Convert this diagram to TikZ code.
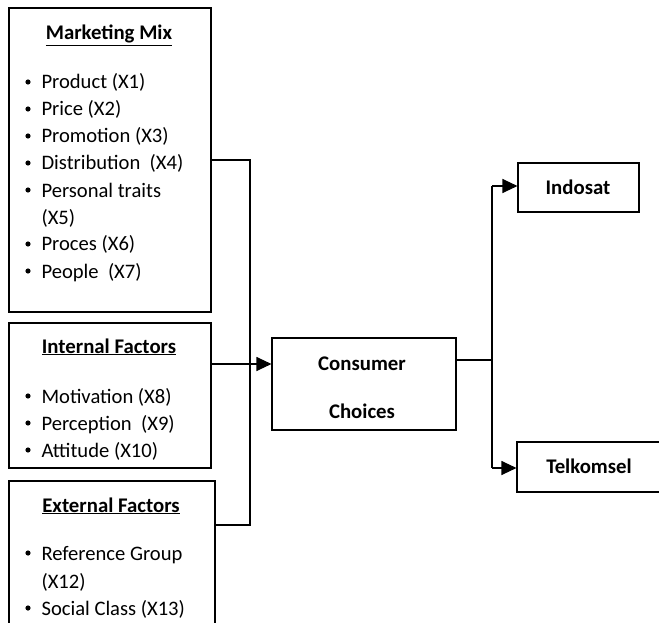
\documentclass[tikz,border=0pt]{standalone}
\usepackage{fontspec}
\setmainfont{Carlito}
\usetikzlibrary{arrows.meta, positioning}

\begin{document}
\begin{tikzpicture}[x=1pt, y=-1pt, line width=1.1pt,
    box/.style={draw, rectangle, inner sep=0pt},
    boxtitle/.style={anchor=base, inner sep=0pt, font=\fontsize{20.8}{24}\selectfont\bfseries},
    item/.style={anchor=base west, inner sep=0pt, font=\fontsize{20.6}{24}\selectfont},
    arr/.style={-{Triangle[length=15pt, width=14pt]}}]
    \useasboundingbox (0,0) rectangle (659,623);
    \clip (0,0) rectangle (659,623);

    % boxes
    \node[box, minimum width=202, minimum height=304] at (110, 160)   (mm) {};
    \node[box, minimum width=202, minimum height=145] at (110, 395.5) (intf) {};
    \node[box, minimum width=206, minimum height=158] at (112, 560)   (extf) {};
    \node[box, minimum width=184, minimum height=92]  at (364, 384)   (cc) {};
    \node[box, minimum width=121, minimum height=49]  at (578.5, 187.5) (indo) {};
    \node[box, minimum width=163, minimum height=50]  at (598.5, 467) (telk) {};

    % titles
    \node[boxtitle] at (109, 40)  (mm-t)   {\underline{Marketing Mix}};
    \node[boxtitle] at (109, 353) (intf-t) {\underline{Internal Factors}};
    \node[boxtitle] at (111, 512) (extf-t) {\underline{External Factors}};
    \node[boxtitle] at (362, 370) (cc-1)   {Consumer};
    \node[boxtitle] at (362, 418) (cc-2)   {Choices};
    \node[boxtitle] at (578, 195) (indo-t) {Indosat};
    \node[boxtitle] at (589, 473) (telk-t) {Telkomsel};

    % bullet lists
    \foreach \txt/\yy [count=\i] in {Product (X1)/89, Price (X2)/116, Promotion (X3)/143,
        Distribution~~(X4)/170, Personal traits/197, Proces (X6)/251, People~~(X7)/278}{
        \node[item] at (41, \yy) (mm-\i) {\txt};
        \fill (28, \yy-7) circle (2.6pt);
    }
    \node[item] at (41, 224) (mm-x5) {(X5)};
    \foreach \txt/\yy [count=\i] in {Motivation (X8)/403, Perception~~(X9)/430, Attitude (X10)/457}{
        \node[item] at (41, \yy) (intf-\i) {\txt};
        \fill (28, \yy-7) circle (2.6pt);
    }
    \foreach \txt/\yy [count=\i] in {Reference Group/560, Social Class (X13)/615}{
        \node[item] at (41, \yy) (extf-\i) {\txt};
        \fill (28, \yy-7) circle (2.6pt);
    }
    \node[item] at (41, 588) (extf-x12) {(X12)};

    % connectors
    \coordinate (mj) at (250, 160);
    \coordinate (jl) at (250, 364);
    \coordinate (ej) at (250, 525);
    \coordinate (jr) at (492, 360);
    \coordinate (jt) at (492, 186);
    \coordinate (jb) at (492, 468);

    \draw (mm.east) -- (mj) -- (ej) -- (extf.east |- ej);
    \draw[arr] (intf.east |- jl) -- (jl -| cc.west);
    \draw (cc.east |- jr) -- (jr);
    \draw (jt) -- (jb);
    \draw[arr] (jt) -- (jt -| indo.west);
    \draw[arr] (jb) -- (jb -| telk.west);
\end{tikzpicture}
\end{document}
